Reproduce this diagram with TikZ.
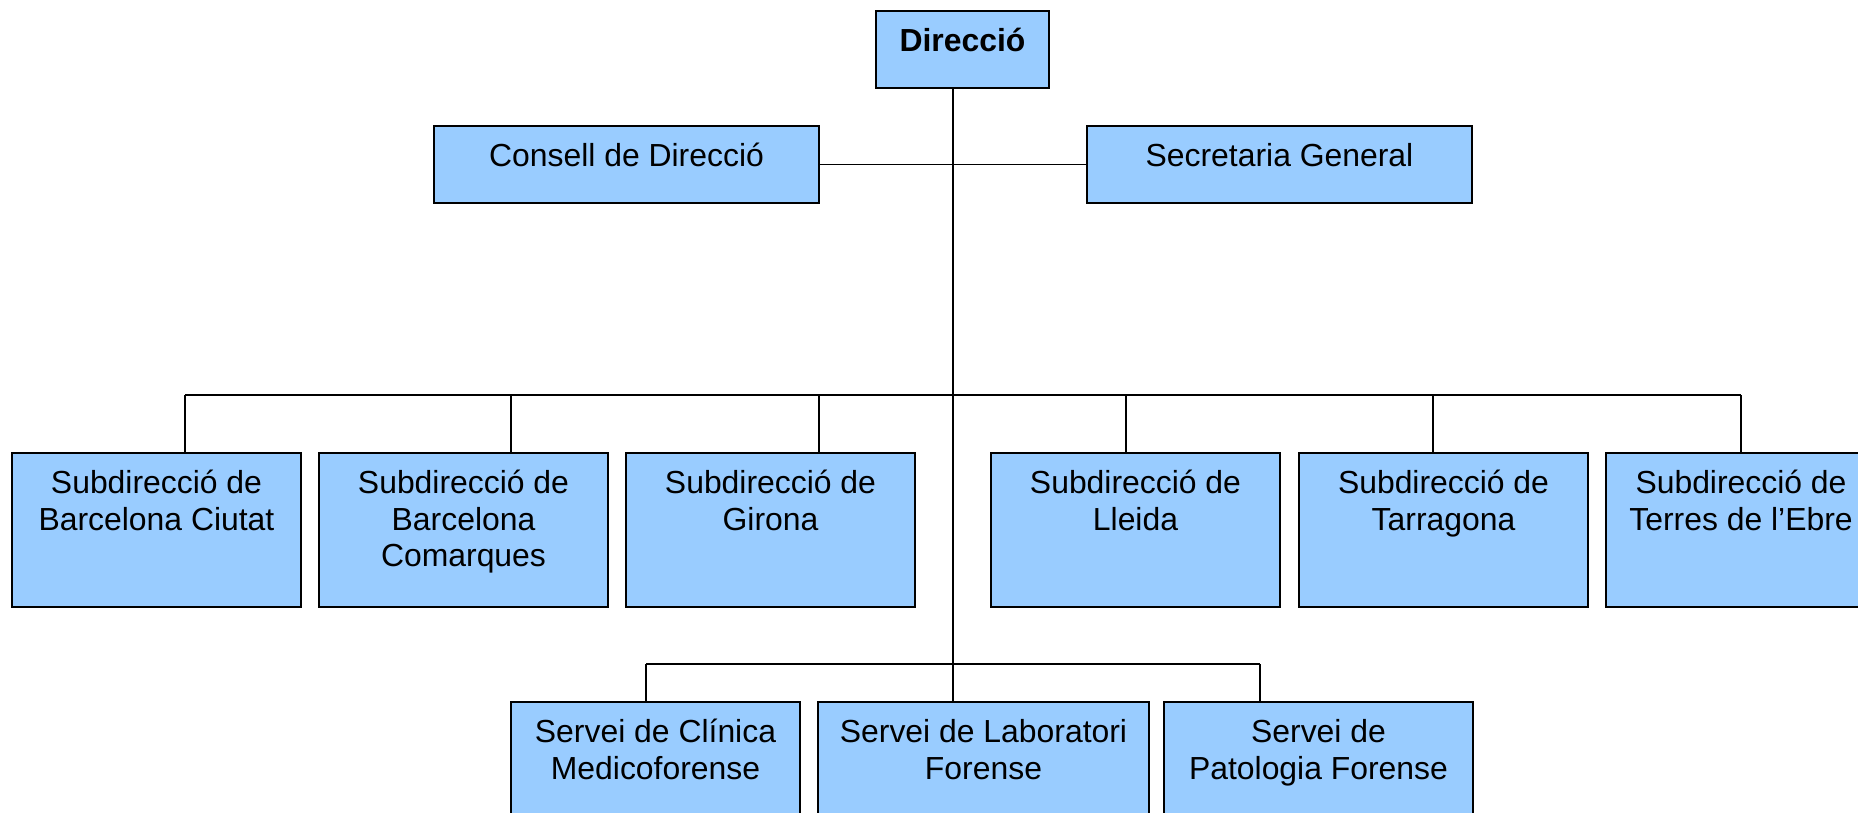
\documentclass[tikz,border=0pt]{standalone}
\usepackage{fontspec}
\setmainfont{Liberation Sans}
\usetikzlibrary{calc}
\definecolor{boxblue}{RGB}{153,204,255}
\newcommand{\fl}{\rule{0pt}{32pt}}
\begin{document}
\begin{tikzpicture}[x=1pt,y=-1pt,
  box/.style={draw=black, line width=1.3pt, fill=boxblue, rectangle, inner sep=0pt},
  txt/.style={font=\fontsize{31.9}{36.8}\selectfont, align=center, inner sep=0pt, anchor=north},
  conn/.style={draw=black, line width=1.2pt}]
\useasboundingbox (0,0) rectangle (1858,813);
\clip (0,0) rectangle (1858,813);

% connection points
\coordinate (trunk) at (953,664);
\coordinate (busL) at (185,395);
\coordinate (busR) at (1741,395);
\coordinate (k1) at (185,395);
\coordinate (k2) at (511,395);
\coordinate (k3) at (819,395);
\coordinate (k4) at (1126,395);
\coordinate (k5) at (1433,395);
\coordinate (k6) at (1741,395);
\coordinate (m1) at (646,664);
\coordinate (m2) at (953,664);
\coordinate (m3) at (1260,664);

% boxes
\node[box, minimum width=173pt, minimum height=77pt] (dir) at (962.5,49.5) {};
\node[box, minimum width=385pt, minimum height=77pt] (cons) at (626.5,164.5) {};
\node[box, minimum width=385pt, minimum height=77pt] (secr) at (1279.5,164.5) {};

\node[box, minimum width=289pt, minimum height=154pt] (s1) at (156.5,530) {};
\node[box, minimum width=289pt, minimum height=154pt] (s2) at (463.5,530) {};
\node[box, minimum width=289pt, minimum height=154pt] (s3) at (770.5,530) {};
\node[box, minimum width=289pt, minimum height=154pt] (s4) at (1135.5,530) {};
\node[box, minimum width=289pt, minimum height=154pt] (s5) at (1443.5,530) {};
\node[box, minimum width=289pt, minimum height=154pt] (s6) at (1750.5,530) {};

\node[box, minimum width=289pt, minimum height=128pt] (v1) at (655.5,766) {};
\node[box, minimum width=331pt, minimum height=128pt] (v2) at (983.5,766) {};
\node[box, minimum width=309pt, minimum height=128pt] (v3) at (1318.5,766) {};

% connectors
\draw[conn] (dir.south -| trunk) -- (trunk);
\draw[conn] (cons.east) -- (secr.west);
\draw[conn] (busL) -- (busR);
\foreach \k/\s in {k1/s1,k2/s2,k3/s3,k4/s4,k5/s5,k6/s6}
  \draw[conn] (\k) -- (\k |- \s.north);
\draw[conn] (m1) -- (m3);
\foreach \k/\s in {m1/v1,m2/v2,m3/v3}
  \draw[conn] (\k) -- (\k |- \s.north);

% texts
\node[txt, font=\fontsize{31.9}{36.8}\selectfont\bfseries] (tdir) at (962.5,19) {\fl Direcció};
\node[txt] (tcons) at (626.5,134) {\fl Consell de Direcció};
\node[txt] (tsecr) at (1279.5,134) {\fl Secretaria General};

\node[txt] (ts1) at (156.5,461) {\fl Subdirecció de\\Barcelona Ciutat};
\node[txt] (ts2) at (463.5,461) {\fl Subdirecció de\\Barcelona\\Comarques};
\node[txt] (ts3) at (770.5,461) {\fl Subdirecció de\\Girona};
\node[txt] (ts4) at (1135.5,461) {\fl Subdirecció de\\Lleida};
\node[txt] (ts5) at (1443.5,461) {\fl Subdirecció de\\Tarragona};
\node[txt] (ts6) at (1741,461) {\fl Subdirecció de\\Terres de l’Ebre};

\node[txt] (tv1) at (655.5,710) {\fl Servei de Clínica\\Medicoforense};
\node[txt] (tv2) at (983.5,710) {\fl Servei de Laboratori\\Forense};
\node[txt] (tv3) at (1318.5,710) {\fl Servei de\\Patologia Forense};
\end{tikzpicture}
\end{document}
